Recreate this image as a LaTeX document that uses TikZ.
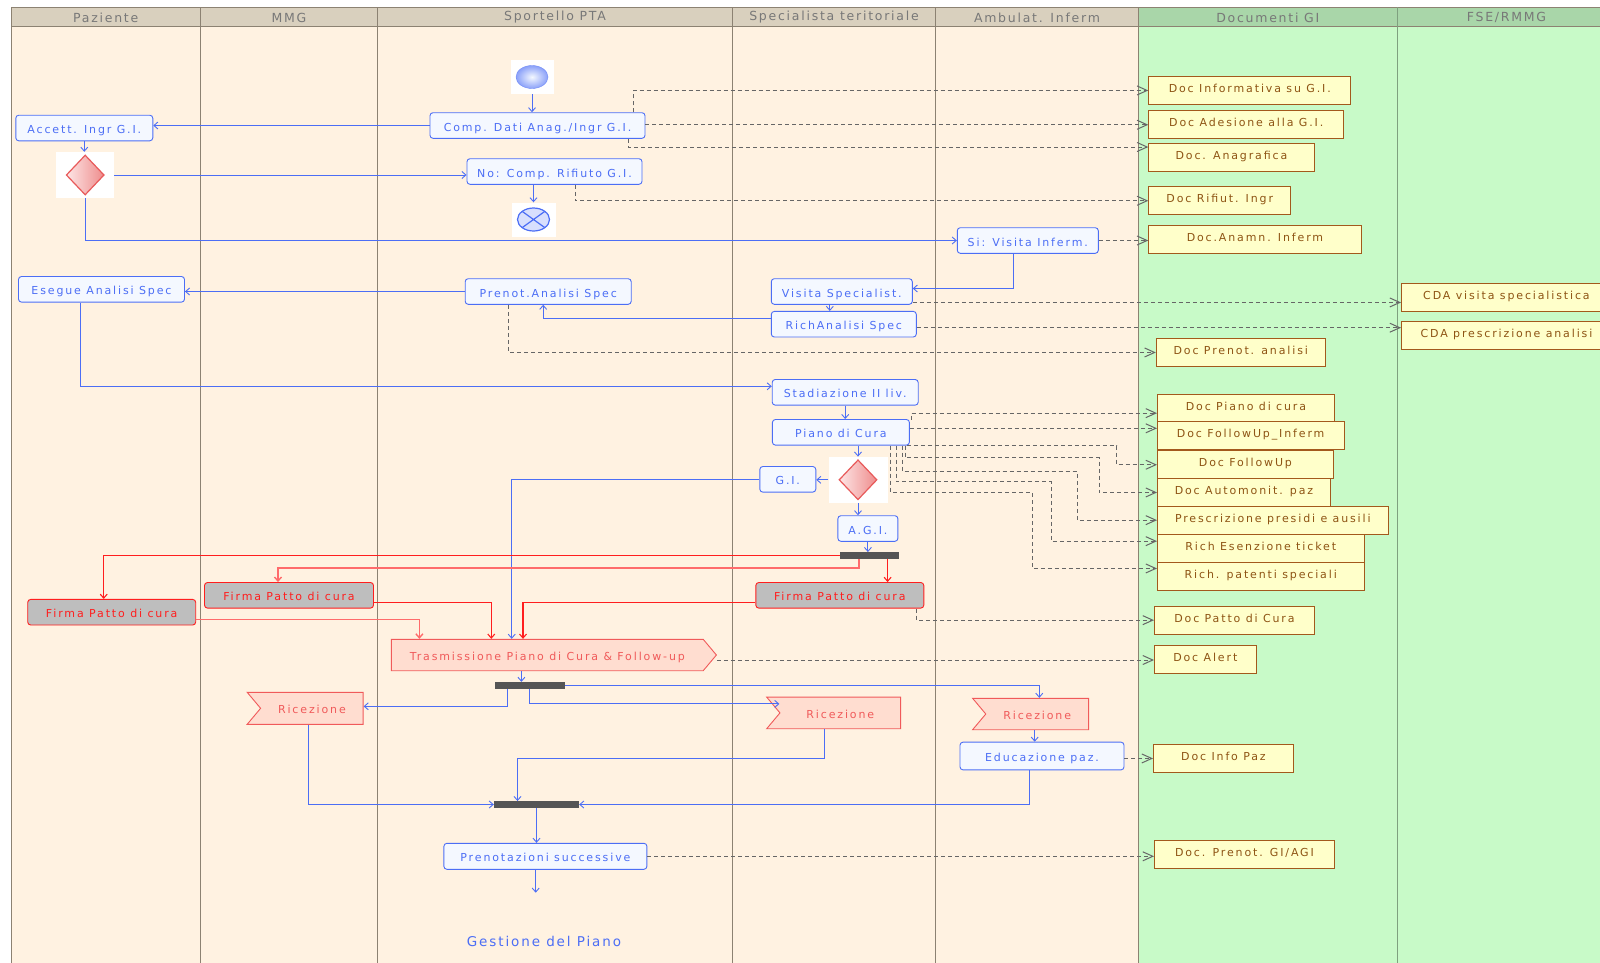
\documentclass[tikz,border=0pt]{standalone}
\usepackage{fontspec}
\usetikzlibrary{shapes.geometric,shapes.symbols,arrows.meta}

\newfontfamily\actfont{DejaVu Sans}[LetterSpace=17]
\newfontfamily\lanefont{DejaVu Sans}[LetterSpace=14]

\definecolor{laneHead}{HTML}{D9D0BE}
\definecolor{laneBody}{HTML}{FFF2E1}
\definecolor{docHead}{HTML}{A9D6A9}
\definecolor{docBody}{HTML}{C8FAC8}
\definecolor{laneLine}{HTML}{8C8272}
\definecolor{greenLine}{HTML}{7FA07F}
\definecolor{headText}{HTML}{787878}
\definecolor{actBlue}{HTML}{4C6EF5}
\definecolor{actFill}{HTML}{F4F8FF}
\definecolor{flowRed}{HTML}{FF1E1E}
\definecolor{flowPink}{HTML}{FF6B6B}
\definecolor{signFill}{HTML}{FFDDD0}
\definecolor{signLine}{HTML}{F05A5A}
\definecolor{docFill}{HTML}{FFFFCA}
\definecolor{docLine}{HTML}{A3591C}
\definecolor{docText}{HTML}{8E5414}
\definecolor{linkGray}{HTML}{666666}
\definecolor{barGray}{HTML}{555555}
\definecolor{firmaGray}{HTML}{BEBEBE}
\definecolor{diaLight}{HTML}{FDE6E6}
\definecolor{diaDark}{HTML}{EE8C8C}
\definecolor{diaLine}{HTML}{E85A5A}

\newcommand\actsize{\actfont\fontsize{11pt}{13pt}\selectfont}

\tikzset{
	act/.style={draw=actBlue, fill=actFill, text=actBlue, rounded corners=3pt,
		line width=0.9pt, inner sep=0pt, minimum height=25.6pt,
		text height=11pt, text depth=0pt, font=\actsize},
	firma/.style={act, draw=flowRed, fill=firmaGray, text=flowRed},
	docbox/.style={draw=docLine, fill=docFill, text=docText, line width=0.9pt,
		inner sep=0pt, anchor=north west, minimum height=28pt,
		text height=8pt, text depth=4pt, font=\actsize},
	sign/.style={shape=signal, draw=signLine, fill=signFill, text=signLine,
		line width=0.9pt, inner sep=0pt, signal pointer angle=100,
		text height=11pt, text depth=0pt, font=\actsize},
	recv/.style={sign, signal from=west, signal to=nowhere},
	send/.style={sign, signal to=east},
	bar/.style={fill=barGray, inner sep=0pt, minimum height=6.5pt},
	iconbox/.style={fill=white, inner sep=0pt},
	gwdia/.style={diamond, draw=diaLine, left color=diaLight, right color=diaDark,
		line width=1.2pt, inner sep=0pt, minimum width=38pt, minimum height=40pt},
	flow/.style={actBlue, line width=0.9pt, -{Straight Barb[length=4pt,width=7pt]}},
	redflow/.style={flow, flowRed, line width=1.1pt},
	pinkflow/.style={flow, flowPink, line width=1.4pt},
	doclink/.style={linkGray, dash pattern=on 4pt off 3pt, line width=1pt,
		-{Straight Barb[length=10pt,width=9pt]}}
}

\begin{document}
\begin{tikzpicture}[x=1pt,y=-1pt]
	\useasboundingbox (0,0) rectangle (1600,962);
	% lanes
	\fill[laneBody] (11,26) rectangle (1138.5,975);
	\fill[docBody] (1138.5,26) rectangle (1620,975);
	\fill[laneHead] (11,7.3) rectangle (1138.5,26);
	\fill[docHead] (1138.5,7.3) rectangle (1620,26);
	\draw[laneLine] (11,975) -- (11,7.3) -- (1620,7.3);
	\draw[laneLine] (11,26) -- (1620,26);
	\foreach \x in {200.5,377.6,732.5,935.5,1138.5}
	\draw[laneLine] (\x,7.3) -- (\x,975);
	\draw[greenLine] (1397,7.3) -- (1397,975);
	\foreach \x/\lane in {105.7/Paziente, 289/MMG, 555/Sportello PTA,
		834/Specialista teritoriale, 1037/Ambulat. Inferm,
		1267.8/Documenti GI, 1506.5/{FSE/RMMG}}
	\node[text=headText, font=\lanefont\fontsize{12.5pt}{14pt}\selectfont]
	at (\x,17.5) {\lane};

	% activities
	\node[iconbox, minimum width=43pt, minimum height=34pt] (start) at (532,77) {};
	\node[ellipse, draw=actBlue!80, inner color=actFill, outer color=actBlue!65,
	inner sep=0pt, minimum width=32pt, minimum height=23pt] (startDot) at (start) {};
	\node[act, minimum width=215pt] (comp) at (537.5,125.5) {Comp. Dati Anag./Ingr G.I.};
	\node[act, minimum width=137pt] (accett) at (84.3,128) {Accett. Ingr G.I.};
	\node[iconbox, minimum width=58pt, minimum height=46pt] (gw1) at (85.2,175) {};
	\node[gwdia] (gw1d) at (gw1) {};
	\node[act, minimum width=175pt] (rifiuto) at (554.5,171.5) {No: Comp. Rifiuto G.I.};
	\node[iconbox, minimum width=44pt, minimum height=34pt] (stop) at (533.5,219.5) {};
	\node[ellipse, draw=actBlue, fill=actBlue!22, line width=1.2pt, inner sep=0pt,
	minimum width=32pt, minimum height=23pt,
	path picture={\draw[actBlue, line width=1.2pt]
		(path picture bounding box.south west) -- (path picture bounding box.north east)
		(path picture bounding box.north west) -- (path picture bounding box.south east);}]
	(stopDot) at (stop) {};
	\node[act, minimum width=141pt] (visitaInf) at (1027.8,240.5) {Si: Visita Inferm.};
	\node[act, minimum width=141pt] (visitaSpec) at (841.8,291.5) {Visita Specialist.};
	\node[act, minimum width=145pt] (richAn) at (843.8,324.2) {RichAnalisi Spec};
	\node[act, minimum width=166pt] (prenotAn) at (548.2,291.5) {Prenot.Analisi Spec};
	\node[act, minimum width=166pt] (esegue) at (101.5,289.3) {Esegue Analisi Spec};
	\node[act, minimum width=146pt] (stadiaz) at (845.2,392.3) {Stadiazione II liv.};
	\node[act, minimum width=137pt] (piano) at (840.9,432.3) {Piano di Cura};
	\node[iconbox, minimum width=59pt, minimum height=46pt] (gw2) at (858,479.8) {};
	\node[gwdia] (gw2d) at (gw2) {};
	\node[act, minimum width=56pt] (gi) at (787.8,479.3) {G.I.};
	\node[act, minimum width=60pt] (agi) at (867.9,528.5) {A.G.I.};
	\node[bar, minimum width=59pt] (fork1) at (869.6,555.5) {};
	\node[firma, minimum width=168pt] (firmaPaz) at (111.7,612.2) {Firma Patto di cura};
	\node[firma, minimum width=169pt] (firmaMmg) at (289,595.3) {Firma Patto di cura};
	\node[firma, minimum width=168pt] (firmaSpec) at (839.8,595.3) {Firma Patto di cura};
	\node[send, minimum width=325pt, minimum height=31.4pt] (trasm) at (547.3,655)
	{Trasmissione Piano di Cura \& Follow-up};
	\node[bar, minimum width=70pt] (fork2) at (529.8,685.3) {};
	\node[recv, minimum width=116pt, minimum height=32pt] (ricMmg) at (311.9,708.3) {Ricezione};
	\node[recv, minimum width=134pt, minimum height=31.7pt] (ricSpec) at (840.3,712.9) {Ricezione};
	\node[recv, minimum width=116pt, minimum height=31.4pt] (ricInf) at (1037.2,714) {Ricezione};
	\node[act, minimum width=164pt, minimum height=27.7pt] (educ) at (1042,756) {Educazione paz.};
	\node[bar, minimum width=85pt] (join) at (536.5,804.5) {};
	\node[act, minimum width=203pt, minimum height=26pt] (prenSucc) at (545.4,856.3)
	{Prenotazioni successive};
	\coordinate (flowEnd) at (535.7,892.7);
	\node[text=actBlue, font=\lanefont\fontsize{13.5pt}{16pt}\selectfont] (title)
	at (544,941) {Gestione del Piano};

	% documents
	\node[docbox, minimum width=202pt] (dInfo) at (1148.3,76) {Doc Informativa su G.I.};
	\node[docbox, minimum width=195pt] (dAdes) at (1148.3,110.3) {Doc Adesione alla G.I.};
	\node[docbox, minimum width=165.4pt] (dAnag) at (1148.3,142.7) {Doc. Anagrafica};
	\node[docbox, minimum width=142pt] (dRifiut) at (1148.3,186.3) {Doc Rifiut. Ingr};
	\node[docbox, minimum width=212.4pt] (dAnamn) at (1148.3,225.3) {Doc.Anamn. Inferm};
	\node[docbox, minimum width=210pt] (cdaVisita) at (1401,283.3) {CDA visita specialistica};
	\node[docbox, minimum width=210pt] (cdaPrescr) at (1401,321.3) {CDA prescrizione analisi};
	\node[docbox, minimum width=169pt] (dPrenAn) at (1155.8,338) {Doc Prenot. analisi};
	\node[docbox, minimum width=177pt] (dPiano) at (1157,393.7) {Doc Piano di cura};
	\node[docbox, minimum width=186.5pt] (dFollowInf) at (1157,421.3) {Doc FollowUp\_Inferm};
	\node[docbox, minimum width=176pt] (dFollow) at (1157,450.3) {Doc FollowUp};
	\node[docbox, minimum width=173pt] (dAutom) at (1157,478) {Doc Automonit. paz};
	\node[docbox, minimum width=230.7pt] (dPresidi) at (1157,505.7) {Prescrizione presidi e ausili};
	\node[docbox, minimum width=206.6pt] (dEsenz) at (1157,533.7) {Rich Esenzione ticket};
	\node[docbox, minimum width=206.6pt] (dPatenti) at (1157,562) {Rich. patenti speciali};
	\node[docbox, minimum width=160pt] (dPatto) at (1154,605.7) {Doc Patto di Cura};
	\node[docbox, minimum width=101.7pt] (dAlert) at (1154,644.7) {Doc Alert};
	\node[docbox, minimum width=140pt] (dInfoPaz) at (1153,744) {Doc Info Paz};
	\node[docbox, minimum width=180pt] (dPrenGi) at (1154,840) {Doc. Prenot. GI/AGI};

	% control flow
	\draw[flow] (start.south) -- (start.south |- comp.north);
	\draw[flow] (comp.west) -- (comp.west -| accett.east);
	\draw[flow] (accett.south) -- (accett.south |- gw1.north);
	\draw[flow] (gw1.east) -- (gw1.east -| rifiuto.west);
	\draw[flow] (rifiuto.south -| stop) -- (stop.north);
	\draw[flow] (gw1.south) |- (visitaInf.west);
	\draw[flow] ([xshift=-14pt]visitaInf.south) |- ([yshift=3pt]visitaSpec.east);
	\draw[flow] ([xshift=-12pt]visitaSpec.south) -- ([xshift=-12pt]visitaSpec.south |- richAn.north);
	\draw[flow] ([yshift=6pt]richAn.west) -| ([xshift=-5pt]prenotAn.south);
	\draw[flow] (prenotAn.west) -- (prenotAn.west -| esegue.east);
	\draw[flow] ([xshift=-21pt]esegue.south) |- ([yshift=6pt]stadiaz.west);
	\draw[flow] (stadiaz.south) -- (stadiaz.south |- piano.north);
	\draw[flow] (gw2 |- piano.south) -- (gw2.north);
	\draw[flow] (gw2.west) -- (gw2.west -| gi.east);
	\draw[flow] (gw2.south) -- (gw2.south |- agi.north);
	\draw[flow] (agi.south) -- (agi.south |- fork1.north);
	\draw[flow] (gi.west) -| ([xshift=-35.6pt]trasm.north);
	\draw[redflow] (fork1.west) -| ([xshift=-8pt]firmaPaz.north);
	\draw[pinkflow] ([xshift=-10.6pt]fork1.south) -- ++(0,9) -| ([xshift=-11pt]firmaMmg.north);
	\draw[redflow] ([xshift=18pt]fork1.south) -- ([xshift=18pt]fork1.south |- firmaSpec.north);
	\draw[pinkflow] ([yshift=-7pt]firmaPaz.east) -| ([xshift=-127.9pt]trasm.north);
	\draw[redflow] ([yshift=-7pt]firmaMmg.east) -| ([xshift=-56pt]trasm.north);
	\draw[redflow] ([yshift=-7pt]firmaSpec.west) -| ([xshift=-24.3pt]trasm.north);
	\draw[flow] ([xshift=-25.9pt]trasm.south) -- ([xshift=-25.9pt]trasm.south |- fork2.north);
	\draw[flow] ([xshift=-22pt]fork2.south) |- ([yshift=2pt]ricMmg.east);
	\draw[flow] (fork2.south) |- ([yshift=9pt]ricSpec.west);
	\draw[flow] (fork2.east) -| ([xshift=2.1pt]ricInf.north);
	\draw[flow] ([xshift=-2.5pt]ricInf.south) -- ([xshift=-2.5pt]ricInf.south |- educ.north);
	\draw[flow] ([xshift=-3.2pt]ricMmg.south) |- (join.west);
	\draw[flow] ([xshift=-15.7pt]ricSpec.south) -- ++(0,29) -| ([xshift=-19pt]join.north);
	\draw[flow] ([xshift=-12.5pt]educ.south) |- (join.east);
	\draw[flow] (join.south) -- (join.south |- prenSucc.north);
	\draw[flow] (flowEnd |- prenSucc.south) -- (flowEnd);

	% document links
	\draw[doclink] ([xshift=-12pt]comp.north east) |- (dInfo.west);
	\draw[doclink] (comp.east |- dAdes.west) -- (dAdes.west);
	\draw[doclink] ([xshift=-17pt]comp.south east) |- ([yshift=-4.3pt]dAnag.north west);
	\draw[doclink] ([xshift=20.5pt]rifiuto.south) |- (dRifiut.west);
	\draw[doclink] (visitaInf.east) -- (visitaInf.east -| dAnamn.west);
	\draw[doclink] ([yshift=2.3pt]visitaSpec.south east) -- ([yshift=2.3pt]visitaSpec.south east -| cdaVisita.west);
	\draw[doclink] ([yshift=-3.5pt]richAn.east) -- ([yshift=-3.5pt]richAn.east -| cdaPrescr.west);
	\draw[doclink] ([xshift=44pt]prenotAn.south west) |- (dPrenAn.west);
	\draw[doclink] ([xshift=1.2pt,yshift=-0.5pt]piano.north east) |- ([yshift=-5pt]dPiano.west);
	\draw[doclink] ([yshift=4pt]piano.east) -- ([yshift=4pt]piano.east -| dFollowInf.west);
	\draw[doclink] ([xshift=-3pt]piano.south east) -- ++(210,0) |- (dFollow.west);
	\draw[doclink] ([xshift=-4.5pt]piano.south east) -- ++(0,12.3) -- ++(194,0) |- (dAutom.west);
	\draw[doclink] ([xshift=-7.5pt]piano.south east) -- ++(0,25.7) -- ++(174.7,0) |- (dPresidi.west);
	\draw[doclink] ([xshift=-13.5pt]piano.south east) -- ++(0,36) -- ++(154.7,0) |- ([yshift=7pt]dEsenz.west);
	\draw[doclink] ([xshift=-19pt]piano.south east) -- ++(0,46.7) -- ++(141.3,0) |- ([yshift=8pt]dPatenti.west);
	\draw[doclink] ([xshift=-7.5pt]firmaSpec.south east) |- (dPatto.west);
	\draw[doclink] ([yshift=-5pt]trasm.east) -- ([yshift=-5pt]trasm.east -| dAlert.west);
	\draw[doclink] (educ.east |- dInfoPaz.west) -- (dInfoPaz.west);
	\draw[doclink] (prenSucc.east) -- (prenSucc.east -| dPrenGi.west);
\end{tikzpicture}
\end{document}
